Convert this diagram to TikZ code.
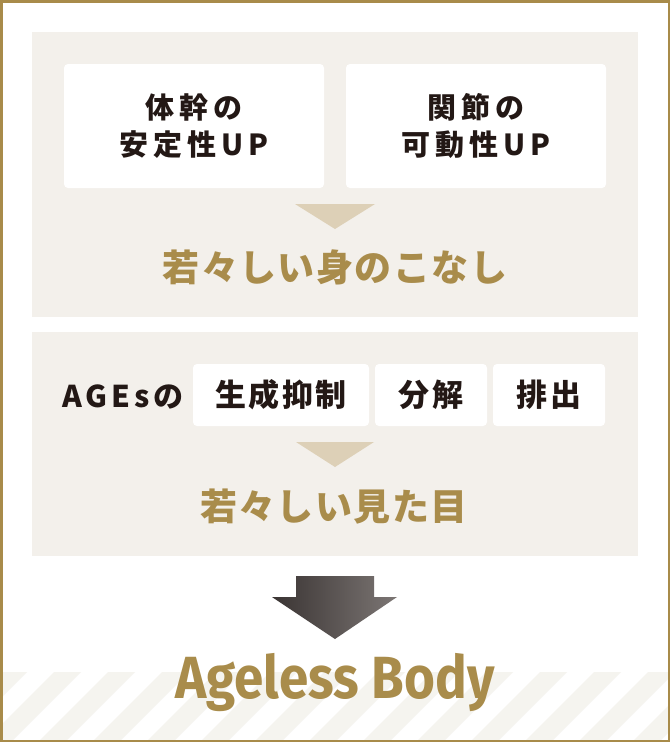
\documentclass[tikz,border=0pt]{standalone}
\usepackage{fontspec}
\usepackage{graphicx}
\newfontfamily\jpbox{Noto Sans CJK JP}[LetterSpace=17]
\newfontfamily\jpmid{Noto Sans CJK JP}[LetterSpace=8]
\newfontfamily\jpages{Noto Sans CJK JP}[LetterSpace=13]
\newfontfamily\jpgold{Noto Sans CJK JP}[LetterSpace=4]
\newfontfamily\abfont{Fira Sans}
\definecolor{bordergold}{HTML}{A88B4A}
\definecolor{goldtext}{HTML}{A98C4B}
\definecolor{panelbg}{HTML}{F3F0EB}
\definecolor{tricol}{HTML}{DDD0B7}
\definecolor{stripecol}{HTML}{F5F4EF}
\definecolor{darktext}{HTML}{231815}
\definecolor{arrowL}{HTML}{3A3433}
\definecolor{arrowR}{HTML}{7C7674}
\tikzset{
  panel/.style={fill=panelbg, draw=none, inner sep=0pt},
  whitebox/.style={fill=white, draw=none, rounded corners=4pt, inner sep=0pt, text=darktext, align=center},
  goldlabel/.style={text=goldtext, inner sep=0pt, anchor=base},
  darklabel/.style={text=darktext, inner sep=0pt, anchor=base},
  tri/.style={fill=tricol, draw=none},
}
\begin{document}
\begin{tikzpicture}[x=1pt,y=-1pt]
\useasboundingbox (0,0) rectangle (670,742);
\fill[white] (0,0) rectangle (670,742);
% diagonal stripes
\begin{scope}
  \clip (2,672) rectangle (668,740);
  \foreach \i in {0,...,13} {
    \fill[stripecol] ({\i*54},672) -- ({\i*54+27},672) -- ({\i*54+27-68},740) -- ({\i*54-68},740) -- cycle;
  }
\end{scope}
% panel 1
\node[panel, minimum width=606pt, minimum height=285pt] (p1) at (335,174.5) {};
\node[whitebox, minimum width=260pt, minimum height=124pt, font=\jpbox\bfseries\fontsize{29pt}{37.5pt}\selectfont] (b1) at (194,126) {体幹の\\安定性UP};
\node[whitebox, minimum width=260pt, minimum height=124pt, font=\jpbox\bfseries\fontsize{29pt}{37.5pt}\selectfont] (b2) at (476,126) {関節の\\可動性UP};
\coordinate (t1a) at (295,204);
\coordinate (t1b) at (375,204);
\coordinate (t1c) at (335,229);
\fill[tri] (t1a) -- (t1b) -- (t1c) -- cycle;
\node[goldlabel, font=\jpgold\bfseries\fontsize{37pt}{40pt}\selectfont] (g1) at (335,281) {若々しい身のこなし};
% panel 2
\node[panel, minimum width=606pt, minimum height=224pt] (p2) at (335,444) {};
\node[darklabel, font=\jpages\bfseries\fontsize{30pt}{34pt}\selectfont] (ages) at (123,407) {AGEsの};
\node[whitebox, minimum width=176pt, minimum height=62pt, font=\jpmid\bfseries\fontsize{31pt}{34pt}\selectfont] (c1) at (281,395) {生成抑制};
\node[whitebox, minimum width=112pt, minimum height=62pt, font=\jpmid\bfseries\fontsize{31pt}{34pt}\selectfont] (c2) at (431,395) {分解};
\node[whitebox, minimum width=112pt, minimum height=62pt, font=\jpmid\bfseries\fontsize{31pt}{34pt}\selectfont] (c3) at (549,395) {排出};
\coordinate (t2a) at (296,442);
\coordinate (t2b) at (374,442);
\coordinate (t2c) at (335,467);
\fill[tri] (t2a) -- (t2b) -- (t2c) -- cycle;
\node[goldlabel, font=\jpgold\bfseries\fontsize{37pt}{40pt}\selectfont] (g2) at (334,520) {若々しい見た目};
% big arrow
\coordinate (a1) at (296,576);
\coordinate (a2) at (374,576);
\coordinate (a3) at (374,597);
\coordinate (a4) at (397,597);
\coordinate (a5) at (335,639);
\coordinate (a6) at (272,597);
\coordinate (a7) at (296,597);
\shade[left color=arrowL, right color=arrowR] (a1) -- (a2) -- (a3) -- (a4) -- (a5) -- (a6) -- (a7) -- cycle;
% title
\node[goldlabel, font=\abfont\bfseries\fontsize{59.5pt}{62pt}\selectfont] (title) at (335,698) {\scalebox{0.89}[1]{Ageless Body}};
% outer border
\draw[bordergold, line width=2.5pt] (1.25,1.25) rectangle (668.75,740.75);
\end{tikzpicture}
\end{document}
